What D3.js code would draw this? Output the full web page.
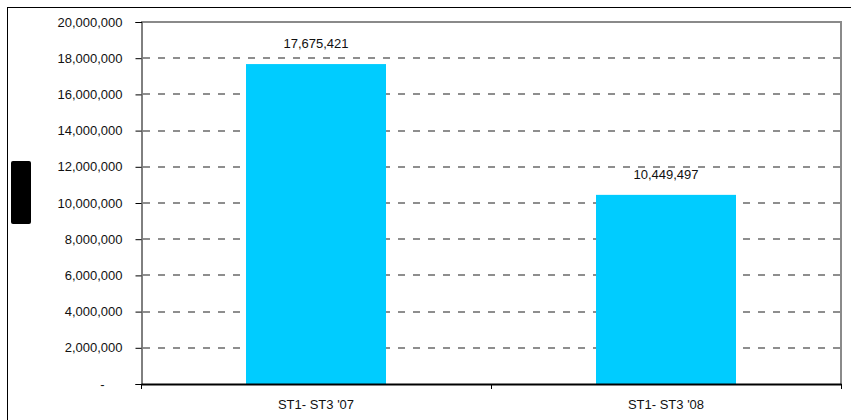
<!DOCTYPE html>
<html><head><meta charset="utf-8">
<script src="https://cdn.jsdelivr.net/npm/d3@7"></script>
<style>body{margin:0;background:#fff}svg{display:block;font-family:"Liberation Sans",Arial,sans-serif}</style>
</head><body>
<svg id="c" width="851" height="420"></svg>
<script>
const categories = ["ST1- ST3 '07", "ST1- ST3 '08"];
const values = [17675421, 10449497];
const yTicks = [0, 2000000, 4000000, 6000000, 8000000, 10000000, 12000000, 14000000, 16000000, 18000000, 20000000];

const svg = d3.select("#c");
const L = 141, R = 841, T = 22, B = 384;
const x = d3.scaleBand().domain(categories).range([L, R]).paddingInner(0.6).paddingOuter(0.3);
const xOuter = d3.scaleBand().domain(categories).range([L, R]);
const y = d3.scaleLinear().domain([0, 20000000]).range([B, T]);
const fmt = d3.format(",");

// outer border
svg.append("rect").attr("x", 7.5).attr("y", 7.5).attr("width", 900).attr("height", 500)
  .attr("fill", "none").attr("stroke", "#000").attr("stroke-width", 1);

// redacted axis title block
svg.append("rect").attr("x", 11).attr("y", 161).attr("width", 20).attr("height", 63).attr("rx", 2).attr("fill", "#000");

// gridlines
svg.append("g").selectAll("line").data(yTicks.filter(d => d > 0 && d < 20000000)).join("line")
  .attr("x1", L + 2).attr("x2", R).attr("y1", d => Math.round(y(d))).attr("y2", d => Math.round(y(d)))
  .attr("stroke", "#6a6a6a").attr("stroke-width", 1.6).attr("stroke-dasharray", "7,8");

// plot border top and right
svg.append("path").attr("d", `M${L},${T}H${R}V${B}`).attr("fill", "none").attr("stroke", "#8a8a8a").attr("stroke-width", 2);

// bars
svg.append("g").selectAll("rect").data(values).join("rect")
  .attr("x", (d, i) => x(categories[i])).attr("width", x.bandwidth())
  .attr("y", d => y(d)).attr("height", d => B - y(d)).attr("fill", "#00CCFF");

// data labels
svg.append("g").selectAll("text").data(values).join("text")
  .attr("x", (d, i) => x(categories[i]) + x.bandwidth() / 2).attr("y", d => y(d) - 16)
  .attr("text-anchor", "middle").attr("font-size", 13).attr("fill", "#111").text(d => fmt(d));

// y axis
const yAxis = d3.axisLeft(y).tickValues(yTicks).tickSize(6).tickPadding(13)
  .tickFormat(d => d === 0 ? "-" : fmt(d));
const gy = svg.append("g").attr("transform", `translate(${L + 0.5},0)`).call(yAxis);
gy.select(".domain").attr("stroke", "#000");
gy.selectAll(".tick line").attr("stroke", "#000");
gy.selectAll(".tick text").attr("font-size", 13).attr("fill", "#111").attr("font-family", "Liberation Sans, Arial, sans-serif");
gy.selectAll(".tick text").filter(d => d === 0).attr("x", -37);

// x axis
const xAxis = d3.axisBottom(xOuter).tickSize(0).tickPadding(16);
const gx = svg.append("g").attr("transform", `translate(0,${B})`).call(xAxis);
gx.select(".domain").attr("stroke", "#000").attr("stroke-width", 2);
gx.selectAll(".tick text").attr("font-size", 13).attr("fill", "#111").attr("font-family", "Liberation Sans, Arial, sans-serif");
// category boundary ticks
svg.append("g").selectAll("line").data([L, xOuter(categories[1]), R]).join("line")
  .attr("x1", d => d + 0.5).attr("x2", d => d + 0.5).attr("y1", B).attr("y2", B + 5).attr("stroke", "#000");
</script>
</body></html>
